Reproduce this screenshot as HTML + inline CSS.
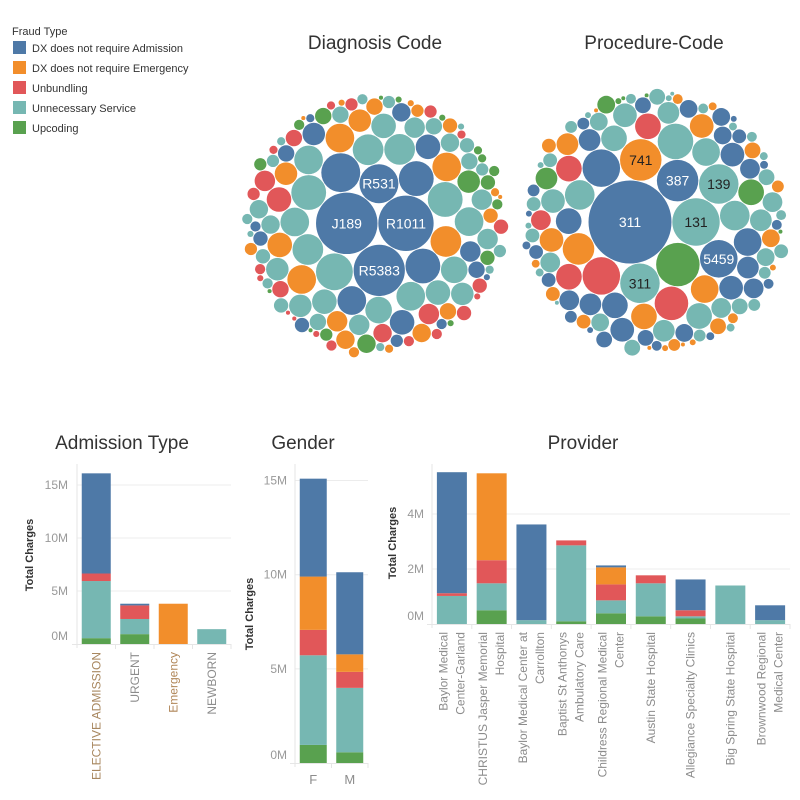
<!DOCTYPE html>
<html><head><meta charset="utf-8"><style>
body{margin:0;background:#fff;}
svg{display:block;font-family:"Liberation Sans",sans-serif;}
</style></head><body>
<svg id="root" width="800" height="800" viewBox="0 0 800 800">
<g>
<text x="12" y="35" font-size="11" fill="#333">Fraud Type</text>
<rect x="13" y="41" width="13" height="13" fill="#4e79a7"/>
<text x="32" y="52" font-size="11" fill="#333">DX does not require Admission</text>
<rect x="13" y="61" width="13" height="13" fill="#f28e2b"/>
<text x="32" y="72" font-size="11" fill="#333">DX does not require Emergency</text>
<rect x="13" y="81" width="13" height="13" fill="#e15759"/>
<text x="32" y="92" font-size="11" fill="#333">Unbundling</text>
<rect x="13" y="101" width="13" height="13" fill="#76b7b2"/>
<text x="32" y="112" font-size="11" fill="#333">Unnecessary Service</text>
<rect x="13" y="121" width="13" height="13" fill="#59a14f"/>
<text x="32" y="132" font-size="11" fill="#333">Upcoding</text>
</g>
<text x="375" y="49" font-size="19" fill="#333" text-anchor="middle">Diagnosis Code</text>
<text x="654" y="49" font-size="19" fill="#333" text-anchor="middle">Procedure-Code</text>
<text x="122" y="449" font-size="19" fill="#333" text-anchor="middle">Admission Type</text>
<text x="303" y="449" font-size="19" fill="#333" text-anchor="middle">Gender</text>
<text x="583" y="449" font-size="19" fill="#333" text-anchor="middle">Provider</text>
<g id="diag"></g>
<g id="proc"></g>
<g id="adm"></g>
<g id="gen"></g>
<g id="prov"></g>
</svg>
<script>
const COLORS={A:'#4e79a7',E:'#f28e2b',U:'#e15759',S:'#76b7b2',C:'#59a14f'};
const SERIES_ORDER=['C','S','U','E','A'];
// Bubble values (area units) per fraud type
const diagA=[900,729,625,361,361,289,289,196,144,144,121,100,81,64,64,49,49,36,25,25,16,9];
const diagS=[324,289,289,225,225,225,196,196,196,196,169,169,144,144,144,121,121,121,100,100,100,100,81,81,81,64,64,64,64,49,49,49,36,36,36,36,25,25,25,16,16,16,9,9];
const diagE=[225,196,196,196,144,121,121,100,81,81,64,64,49,49,36,36,25,16,16,9,9,4,4];
const diagU=[144,100,100,81,64,64,49,49,49,36,36,36,25,25,25,25,16,16,16,9,9,9,4,4];
const diagC=[121,81,64,49,49,36,36,25,25,25,16,16,9,9,9,4,4,4];
const diagLabels=['J189','R1011','R5383','R531'];
const procA=[1764,441,361,361,196,169,169,144,144,144,121,121,121,100,100,100,81,81,81,81,64,64,64,49,49,49,36,36,36,25,25,25,16,16,16,9,9,9];
const procS=[576,400,400,324,225,225,196,169,169,144,144,121,121,121,100,100,100,81,81,81,64,64,64,64,49,49,49,49,36,36,36,36,25,25,25,25,16,16,16,16,9,9,9,9,4,4];
const procE=[441,256,196,169,144,144,121,81,64,64,49,49,49,36,36,25,25,16,16,9,9,9,4,4,4];
const procU=[361,289,169,169,169,100];
const procC=[484,169,121,81,9,4,4,4];
const procLabelsA=['311','387','5459'];
const procLabelsS=['131','311','139'];
const procLabelsE=['741'];

// Bar data (millions), per category, series bottom->top
const admCats=['ELECTIVE ADMISSION','URGENT','Emergency','NEWBORN'];
const admC=[0.55,0.93,0,0];
const admS=[5.39,1.43,0,1.4];
const admU=[0.71,1.28,0,0];
const admE=[0,0,3.8,0];
const admA=[9.45,0.16,0,0];
const admTicks=[0,5,10,15];
const genCats=['F','M'];
const genC=[0.96,0.57];
const genS=[4.76,3.42];
const genU=[1.35,0.85];
const genE=[2.83,0.93];
const genA=[5.2,4.36];
const genTicks=[0,5,10,15];
const provCats=[['Baylor Medical','Center-Garland'],['CHRISTUS Jasper Memorial','Hospital'],['Baylor Medical Center at','Carrollton'],['Baptist St Anthonys','Ambulatory Care'],['Childress Regional Medical','Center'],['Austin State Hospital'],['Allegiance Specialty Clinics'],['Big Spring State Hospital'],['Brownwood Regional','Medical Center']];
const provC=[0,0.5,0,0.1,0.39,0.28,0.2,0,0];
const provS=[1.02,0.98,0.14,2.76,0.47,1.2,0.08,1.4,0.14];
const provU=[0.1,0.84,0,0.18,0.58,0.29,0.22,0,0];
const provE=[0,3.16,0,0,0.62,0,0,0,0];
const provA=[4.4,0,3.48,0,0.07,0,1.12,0,0.54];
const provTicks=[0,2,4];

const NS='http://www.w3.org/2000/svg';
function mk(tag,attrs,parent){const e=document.createElementNS(NS,tag);for(const k in attrs)e.setAttribute(k,attrs[k]);parent.appendChild(e);return e;}

function place(b,a,c){let dx=b.x-a.x,dy=b.y-a.y,d2=dx*dx+dy*dy,x,y,a2,b2;
 if(d2){a2=a.r+c.r;a2*=a2;b2=b.r+c.r;b2*=b2;
  if(a2>b2){x=(d2+b2-a2)/(2*d2);y=Math.sqrt(Math.max(0,b2/d2-x*x));c.x=b.x-x*dx-y*dy;c.y=b.y-x*dy+y*dx;}
  else{x=(d2+a2-b2)/(2*d2);y=Math.sqrt(Math.max(0,a2/d2-x*x));c.x=a.x+x*dx-y*dy;c.y=a.y+x*dy+y*dx;}
 }else{c.x=a.x+c.r;c.y=a.y;}}
function inter(a,b){const dr=a.r+b.r-1e-6,dx=b.x-a.x,dy=b.y-a.y;return dr>0&&dr*dr>dx*dx+dy*dy;}
function score(n){const a=n._,b=n.next._,ab=a.r+b.r,dx=(a.x*b.r+b.x*a.r)/ab,dy=(a.y*b.r+b.y*a.r)/ab;return dx*dx+dy*dy;}
function N(c){this._=c;this.next=null;this.previous=null;}
function pack(cs){const n=cs.length;let a,b,c,i,j,k,sj,sk,aa,ca;
 a=cs[0];a.x=0;a.y=0;if(n<2)return;b=cs[1];a.x=-b.r;b.x=a.r;b.y=0;if(n<3)return;
 place(b,a,c=cs[2]);a=new N(a);b=new N(b);c=new N(c);
 a.next=c.previous=b;b.next=a.previous=c;c.next=b.previous=a;
 pk:for(i=3;i<n;++i){place(a._,b._,c=cs[i]);c=new N(c);j=b.next;k=a.previous;sj=b._.r;sk=a._.r;
  do{if(sj<=sk){if(inter(j._,c._)){b=j;a.next=b;b.previous=a;--i;continue pk;}sj+=j._.r;j=j.next;}
   else{if(inter(k._,c._)){a=k;a.next=b;b.previous=a;--i;continue pk;}sk+=k._.r;k=k.previous;}}while(j!==k.next);
  c.previous=a;c.next=b;a.next=b.previous=b=c;aa=score(a);
  while((c=c.next)!==b){if((ca=score(c))<aa){a=c;aa=ca;}}b=a.next;}}

function bubbles(gid,groups,cx,cy,R){
 const g=document.getElementById(gid);let cs=[];
 groups.forEach(([key,vals,labels])=>{vals.forEach((v,i)=>cs.push({v,key,label:labels&&labels[i]||null,r:Math.sqrt(v)+0.4}));});
 cs.sort((p,q)=>q.v-p.v);
 pack(cs);
 let mx=0,my=0,tot=0;cs.forEach(c=>{mx+=c.x*c.r*c.r;my+=c.y*c.r*c.r;tot+=c.r*c.r;});mx/=tot;my/=tot;
 let ext=0;cs.forEach(c=>{ext=Math.max(ext,Math.hypot(c.x-mx,c.y-my)+c.r);});
 const s=R/ext;
 cs.forEach(c=>{
  const ci=mk('circle',{cx:cx+(c.x-mx)*s,cy:cy+(c.y-my)*s,r:Math.max(0.5,(c.r-0.4)*s),fill:COLORS[c.key]},g);
  
  
  if(c.label){const t=mk('text',{x:cx+(c.x-mx)*s,y:cy+(c.y-my)*s+5,'text-anchor':'middle','font-size':14,fill:c.key==='A'?'#fff':'#222'},g);
   t.textContent=c.label;
   
   }
 });
}
bubbles('diag',[['A',diagA,diagLabels],['S',diagS],['E',diagE],['U',diagU],['C',diagC]],375,224,136);
bubbles('proc',[['A',procA,procLabelsA],['S',procS,procLabelsS],['E',procE,procLabelsE],['U',procU],['C',procC]],655,222,138);

function bars(gid,cats,series,ticks,o){
 const g=document.getElementById(gid);
 const y=v=>o.base-v*o.ppm;
 const bw=(o.x1-o.x0)/cats.length;
 ticks.forEach(t=>{
  if(t>0){const gl=mk('line',{x1:o.x0,x2:o.x1,y1:y(t),y2:y(t),stroke:'#ececec','stroke-width':1},g);
   }
  const tl=mk('text',{x:o.tx,y:(t===0?y(t)-4:y(t)+4),'text-anchor':'end','font-size':12,fill:'#999'},g);
  tl.textContent=t+'M';
  
 });
 const ax=mk('line',{x1:o.x0,x2:o.x0,y1:o.top,y2:o.base+4,stroke:'#e6e6e6'},g);
 
 const bx=mk('line',{x1:o.x0-5,x2:o.x1,y1:o.base+0.5,y2:o.base+0.5,stroke:'#e6e6e6'},g);
 
 cats.forEach((c,i)=>{
  const tk=mk('line',{x1:o.x0+bw*(i+1),x2:o.x0+bw*(i+1),y1:o.base,y2:o.base+5,stroke:'#e6e6e6'},g);
  
  const xc=o.x0+bw*(i+0.5);let acc=0;
  SERIES_ORDER.forEach(k=>{const v=series[k][i];if(v>0){
   const r=mk('rect',{x:xc-o.w/2,y:y(acc+v),width:o.w,height:v*o.ppm,fill:COLORS[k]},g);
   acc+=v;}});
  const lines=Array.isArray(c)?c:[c];
  if(o.horiz){
   const t=mk('text',{x:xc,y:o.base+21,'text-anchor':'middle','font-size':13,fill:'#8c8c8c'},g);
   t.textContent=lines[0];
   
  } else lines.forEach((ln,j)=>{
   const lx=xc+(j-(lines.length-1)/2)*17+4, ly=o.base+8;
   const t=mk('text',{x:lx,y:ly,'text-anchor':'end','font-size':12,fill:(o.lc&&o.lc[i])||'#8c8c8c',transform:`rotate(-90 ${lx} ${ly})`},g);
   t.textContent=ln;
   
  });
 });
 const at=mk('text',{x:o.ax,y:o.ay,'text-anchor':'middle','font-size':11,'font-weight':'bold',fill:'#333',transform:`rotate(-90 ${o.ax} ${o.ay})`},g);
 at.textContent='Total Charges';
 
}
bars('adm',admCats,{C:admC,S:admS,U:admU,E:admE,A:admA},admTicks,{base:644,ppm:10.6,x0:77,x1:231,w:29,top:464,tx:68,ax:33,ay:555,lc:['#a8875f','#8c8c8c','#b08658','#8c8c8c']});
bars('gen',genCats,{C:genC,S:genS,U:genU,E:genE,A:genA},genTicks,{base:763,ppm:18.83,x0:295,x1:368,w:27,top:464,tx:287,ax:253,ay:614,horiz:true});
bars('prov',provCats,{C:provC,S:provS,U:provU,E:provE,A:provA},provTicks,{base:624,ppm:27.5,x0:432,x1:790,w:30,top:464,tx:424,ax:396,ay:543});
</script>
</body></html>
